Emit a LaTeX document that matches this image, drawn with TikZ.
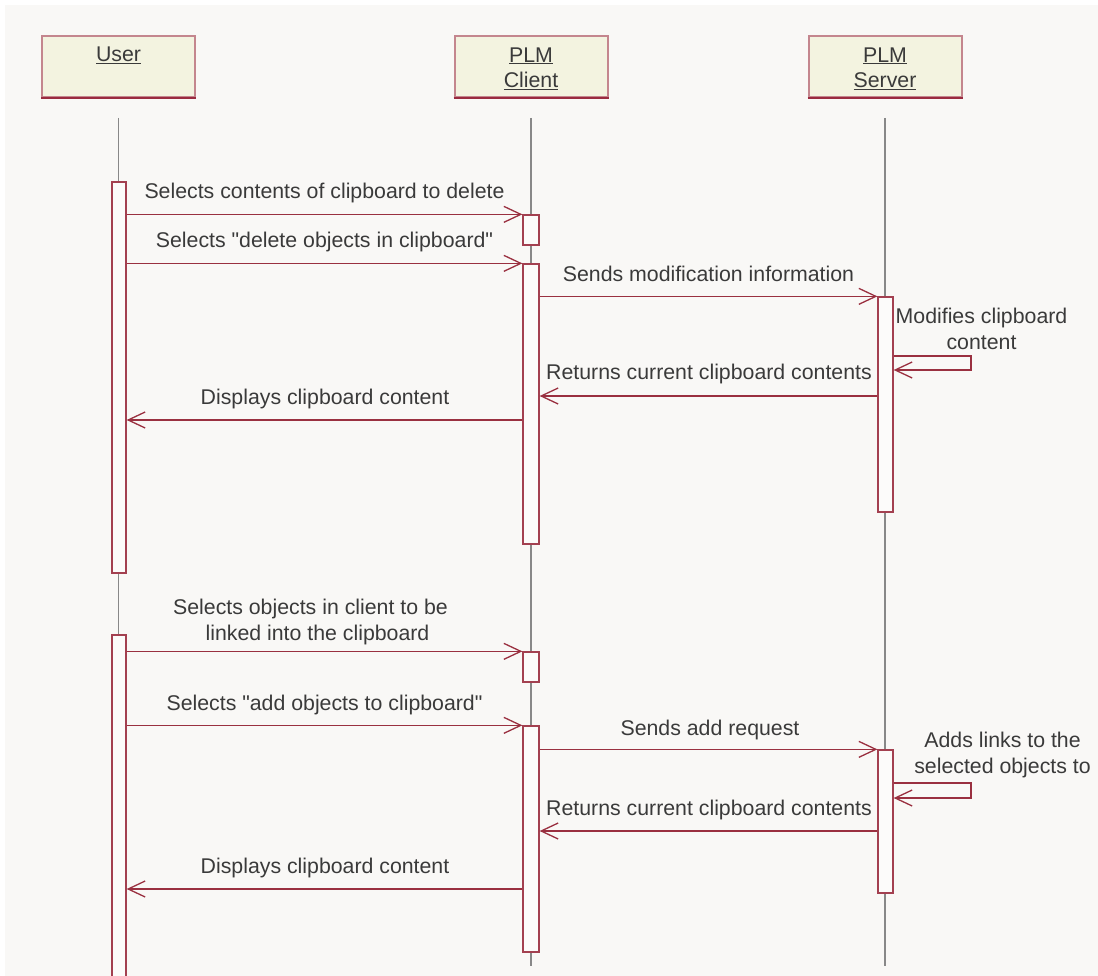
\documentclass[tikz,border=0pt]{standalone}
\usepackage{fontspec}
\setmainfont{Liberation Sans}[Ligatures=TeXOff]
\usetikzlibrary{arrows.meta}
\definecolor{bg}{HTML}{F9F8F6}
\definecolor{headfill}{HTML}{F3F3E0}
\definecolor{headedge}{HTML}{C4868E}
\definecolor{deepred}{HTML}{9A2B3F}
\definecolor{actedge}{HTML}{A34050}
\definecolor{actfill}{HTML}{FCFBFA}
\definecolor{msgred}{HTML}{9A3040}
\definecolor{lifegray}{HTML}{888888}
\definecolor{txt}{HTML}{3A3A3A}
\begin{document}
\begin{tikzpicture}[x=1pt,y=-1pt,
  headbox/.style={draw=headedge, line width=2pt, fill=headfill, minimum width=153pt, minimum height=61pt, inner sep=0pt},
  lbl/.style={text=txt, font=\fontsize{21.3}{25.7}\selectfont, inner sep=0pt},
  lifeline/.style={draw=lifegray, line width=1.4pt},
  act/.style={draw=actedge, line width=1.3pt, fill=actfill, minimum width=15pt, inner sep=0pt},
  msg/.style={draw=msgred, line width=1.3pt, line join=miter, -{Straight Barb[length=17pt,width=16pt,line width=1.3pt]}},
  selfmsg/.style={msg, rounded corners=0pt},
]
\useasboundingbox (0,0) rectangle (1098,976);
\fill[bg] (5,5) rectangle (1098,976);
\begin{scope}
\clip (0,0) rectangle (1098,976);
% heads
\node[headbox] (user) at (118.5,66.5) {};
\node[headbox] (client) at (531,66.5) {};
\node[headbox] (server) at (885,66.5) {};
\draw[deepred, line width=1.6pt] (user.south west) -- (user.south east);
\draw[deepred, line width=1.6pt] (client.south west) -- (client.south east);
\draw[deepred, line width=1.6pt] (server.south west) -- (server.south east);
\node[lbl, anchor=base] (userlbl) at (118.5,62) {\underline{User}};
\node[lbl, anchor=north, align=center] (clientlbl) at (531,47.3) {\underline{PLM}\\\underline{Client}};
\node[lbl, anchor=north, align=center] (serverlbl) at (885,47.3) {\underline{PLM}\\\underline{Server}};
% lifelines
\coordinate (ltop) at (0,118);
\coordinate (lbotU) at (0,985);
\coordinate (lbot) at (0,966);
\draw[lifeline] (user |- ltop) -- (user |- lbotU);
\draw[lifeline] (client |- ltop) -- (client |- lbot);
\draw[lifeline] (server |- ltop) -- (server |- lbot);
% activations
\node[act, minimum width=14pt, minimum height=391pt] (uA1) at (119,377.5) {};
\node[act, minimum width=14pt, minimum height=355pt] (uA2) at (119,812.5) {};
\node[act, minimum width=16pt, minimum height=30pt] (cA1) at (531,230) {};
\node[act, minimum width=16pt, minimum height=280pt] (cA2) at (531,404) {};
\node[act, minimum height=215pt] (sA1) at (885.5,404.5) {};
\node[act, minimum width=16pt, minimum height=30pt] (cA3) at (531,667) {};
\node[act, minimum width=16pt, minimum height=226pt] (cA4) at (531,839) {};
\node[act, minimum height=143pt] (sA2) at (885.5,821.5) {};
% message levels
\coordinate (s1a) at (971,356);
\coordinate (s1b) at (971,370);
\coordinate (r1) at (0,396);
\coordinate (d1) at (0,420);
\coordinate (s2a) at (971,783);
\coordinate (s2b) at (971,798);
\coordinate (r2) at (0,831);
\coordinate (d2) at (0,889);
% part 1
\draw[msg] (uA1.east |- cA1.north) -- (cA1.north west);
\node[lbl, anchor=base] (m1) at (324.5,199) {Selects contents of clipboard to delete};
\draw[msg] (uA1.east |- cA2.north) -- (cA2.north west);
\node[lbl, anchor=base] (m2) at (324.5,248) {Selects "delete objects in clipboard"};
\draw[msg] (cA2.east |- sA1.north) -- (sA1.north west);
\node[lbl, anchor=base] (m3) at (708.5,282) {Sends modification information};
\draw[selfmsg] (sA1.east |- s1a) -- (s1a) -- (s1b) -- (sA1.east |- s1b);
\node[lbl, anchor=north, align=center] (m4) at (981.5,308) {Modifies clipboard\\content};
\draw[msg] (sA1.west |- r1) -- (cA2.east |- r1);
\node[lbl, anchor=base] (m5) at (709,380) {Returns current clipboard contents};
\draw[msg] (cA2.west |- d1) -- (uA1.east |- d1);
\node[lbl, anchor=base] (m6) at (325,404) {Displays clipboard content};
% part 2
\draw[msg] (uA2.east |- cA3.north) -- (cA3.north west);
\node[lbl, anchor=north, align=center] (m7) at (314,599) {Selects objects in client to be\hspace*{7pt}\\\hspace*{7pt}linked into the clipboard};
\draw[msg] (uA2.east |- cA4.north) -- (cA4.north west);
\node[lbl, anchor=base] (m8) at (324.5,710) {Selects "add objects to clipboard"};
\draw[msg] (cA4.east |- sA2.north) -- (sA2.north west);
\node[lbl, anchor=base] (m9) at (710,735) {Sends add request};
\draw[selfmsg] (sA2.east |- s2a) -- (s2a) -- (s2b) -- (sA2.east |- s2b);
\node[lbl, anchor=north, align=center] (m10) at (1002.5,732) {Adds links to the\\selected objects to};
\draw[msg] (sA2.west |- r2) -- (cA4.east |- r2);
\node[lbl, anchor=base] (m11) at (709,815) {Returns current clipboard contents};
\draw[msg] (cA4.west |- d2) -- (uA2.east |- d2);
\node[lbl, anchor=base] (m12) at (325,873) {Displays clipboard content};
\end{scope}
\end{tikzpicture}
\end{document}
